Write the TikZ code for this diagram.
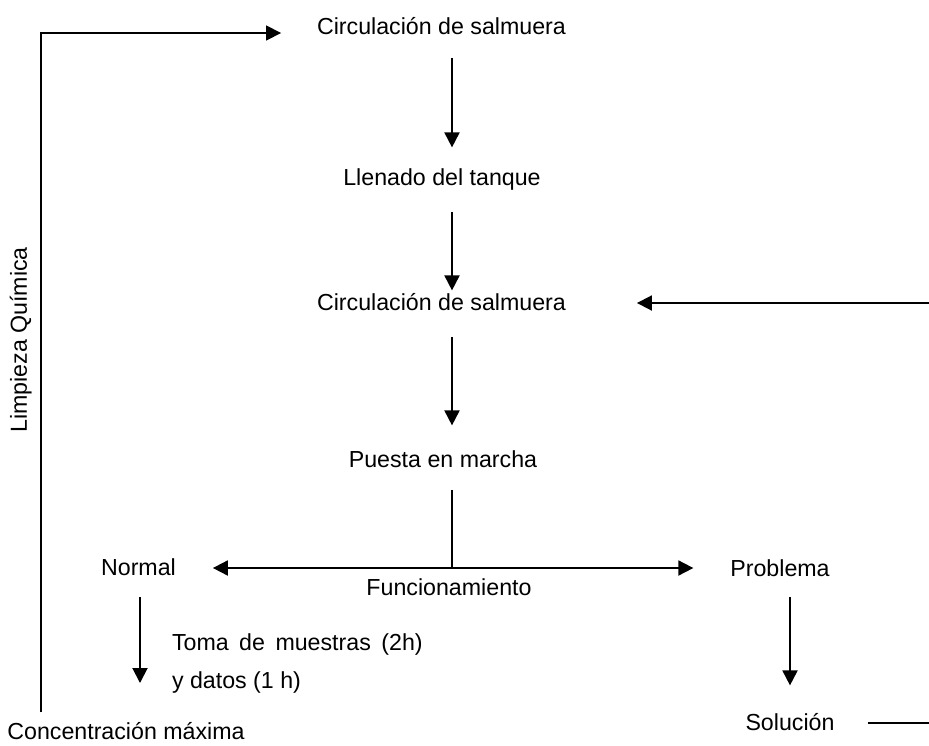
\documentclass[tikz,border=0pt]{standalone}
\usepackage{fontspec}
\setmainfont{Liberation Sans}
\usetikzlibrary{arrows.meta}

\tikzset{
  lbl/.style={inner sep=0pt, outer sep=0pt, text height=16.6pt, text depth=4.9pt,
              font=\fontsize{23.2}{38}\selectfont, anchor=base},
  arr/.style={line width=1.9pt, -{Triangle[length=15pt,width=15pt]}},
  arrboth/.style={line width=1.9pt, {Triangle[length=15pt,width=15pt]}-{Triangle[length=15pt,width=15pt]}},
  plain/.style={line width=1.4pt},
}
\newcommand{\wsp}{\hspace{10.5pt}}

\begin{document}
\begin{tikzpicture}[x=1pt,y=-1pt]
\useasboundingbox (0,0) rectangle (929,745);

% process steps
\node[lbl] (c1)   at (441.5,34)  {Circulación de salmuera};
\node[lbl] (ll)   at (442,185)   {Llenado del tanque};
\node[lbl] (c2)   at (441.5,310) {Circulación de salmuera};
\node[lbl] (pm)   at (443,467)   {Puesta en marcha};
\node[lbl] (fun)  at (449,595)   {Funcionamiento};
\node[lbl] (nor)  at (138.5,575) {Normal};
\node[lbl] (pro)  at (780,576)   {Problema};
\node[lbl, anchor=base west] (toma) at (172,650) {Toma\wsp de\wsp muestras\wsp (2h)};
\node[lbl, anchor=base west] (dat)  at (172,688) {y datos (1 h)};
\node[lbl] (sol)  at (790,730)   {Solución};
\node[lbl] (cmax) at (126,739)   {Concentración máxima};
\node[lbl, rotate=90] (lq) at (27,340) {Limpieza Química};

% helper coordinates
\coordinate (ax) at (452,0);
\coordinate (lx) at (41,33);
\coordinate (j)  at (452,568);
\coordinate (rt) at (929,303);
\coordinate (nx) at (140,0);
\coordinate (nd) at (140,683);
\coordinate (px) at (790,0);
\coordinate (se) at (929,723);

% main flow
\draw[arr, shorten <=19pt, shorten >=21pt] (c1.south -| ax) -- (ll.north -| ax);
\draw[arr, shorten <=22pt, shorten >=3pt]  (ll.south -| ax) -- (c2.north -| ax);
\draw[arr, shorten <=22pt, shorten >=25pt] (c2.south -| ax) -- (pm.north -| ax);
\draw[plain, shorten <=18pt] (pm.south -| ax) -- (j);
\draw[arrboth, shorten <=37pt, shorten >=37pt] (nor.east |- j) -- (pro.west |- j);

% branches
\draw[arr, shorten <=17pt] (nor.south -| nx) -- (nd);
\draw[arr, shorten <=16pt, shorten >=28pt] (pro.south -| px) -- (sol.north -| px);
\draw[plain, shorten <=33pt] (sol.east |- se) -- (se);
\draw[arr, shorten >=71pt] (rt) -- (c2.east |- rt);

% return loop: chemical cleaning
\draw[line width=1.6pt, -{Triangle[length=15pt,width=15pt]}, shorten <=10pt, shorten >=36pt]
  (cmax.north -| lx) -- (lx) -- (lx -| c1.west);
\end{tikzpicture}
\end{document}
